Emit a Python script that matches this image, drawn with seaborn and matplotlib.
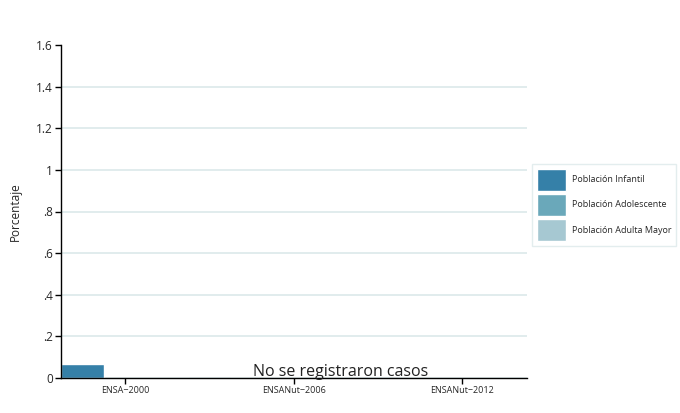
import matplotlib
matplotlib.use("Agg")
import matplotlib.pyplot as plt
import seaborn as sns
import pandas as pd

surveys = ["ENSA\u22122000", "ENSANut\u22122006", "ENSANut\u22122012"]
groups = ["Población Infantil", "Población Adolescente", "Población Adulta Mayor"]
infantil = [0.065, 0.0, 0.0]
adolescente = [0.0, 0.0, 0.0]
adulta_mayor = [0.0, 0.0, 0.0]
colors = ["#3580a8", "#6aa8ba", "#a6c8d2"]
yticks = [0, 0.2, 0.4, 0.6, 0.8, 1.0, 1.2, 1.4, 1.6]
ytick_labels = ["0", ".2", ".4", ".6", ".8", "1", "1.2", "1.4", "1.6"]

rows = []
for g, vals in zip(groups, [infantil, adolescente, adulta_mayor]):
    for s, v in zip(surveys, vals):
        rows.append({"survey": s, "group": g, "value": v})
df = pd.DataFrame(rows)

sns.set_style("white")
plt.rcParams['font.family'] = ['Open Sans', 'DejaVu Sans']
fig = plt.figure(figsize=(6.8, 4.13), dpi=100)
ax = fig.add_axes([61/680, 1-378/413, (527-61)/680, (378-45)/413])

sns.barplot(data=df, x="survey", y="value", hue="group", palette=colors,
            width=0.76, saturation=1, ax=ax, legend=True)

ax.set_xlim(-0.38, 2.385)
ax.set_ylim(0, 1.6)
ax.set_yticks(yticks)
ax.set_yticklabels(ytick_labels, fontsize=8.5)
ax.yaxis.grid(True, color="#dce9ea", linewidth=1.2)
ax.yaxis.get_gridlines()[-1].set_visible(False)
ax.set_axisbelow(True)
for sp in ["top", "right"]:
    ax.spines[sp].set_visible(False)
for sp in ["left", "bottom"]:
    ax.spines[sp].set_color("black")
    ax.spines[sp].set_linewidth(1)
ax.tick_params(axis="y", length=4, width=1, color="black", left=True, pad=2)
ax.tick_params(axis="x", length=4, width=1, color="black", bottom=True, labelsize=6.5, pad=2)
ax.set_xlabel("")
ax.set_ylabel("Porcentaje", fontsize=8.5, labelpad=10)

ax.text(0.6, 0.018, "No se registraron casos", transform=ax.transAxes,
        ha="center", va="center", fontsize=11.5, color="#222222")

handles, labels = ax.get_legend_handles_labels()
ax.legend(handles, labels, loc="upper left", bbox_to_anchor=(532/680, 1-164/413),
          bbox_transform=fig.transFigure, fontsize=6.5, frameon=True,
          handlelength=3.3, handleheight=3.4, borderpad=0.5, labelspacing=0.35,
          fancybox=False, edgecolor="#dce9ea", handletextpad=0.6, borderaxespad=0)

fig.savefig("out.png", dpi=100)
